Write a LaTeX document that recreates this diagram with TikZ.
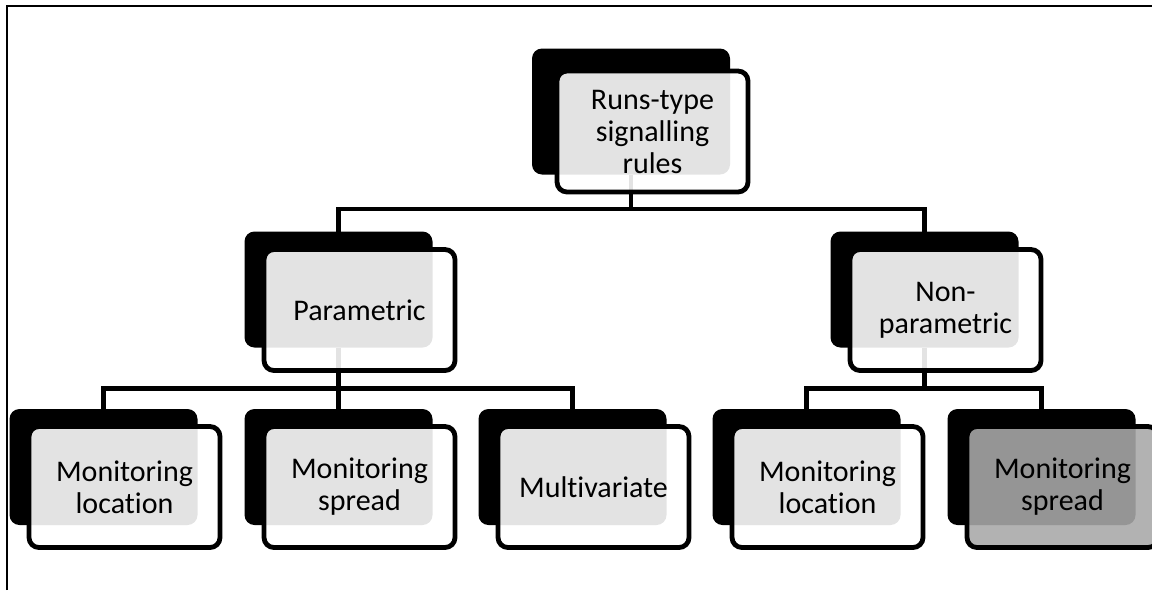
\documentclass[tikz,border=0pt]{standalone}
\usepackage{fontspec}
\setmainfont{Carlito}[Ligatures=NoCommon]

\begin{document}
\begin{tikzpicture}[
  x=1pt, y=1pt,
  back/.style={fill=black, rounded corners=5pt, minimum width=94pt, minimum height=58pt, outer sep=0pt},
  front/.style={draw=black, line width=2.4pt, fill=white, fill opacity=0.89, text opacity=1, rounded corners=5pt,
    minimum width=95.5pt, minimum height=60.5pt, outer sep=0pt, align=center, font=\fontsize{15}{16}\selectfont},
  dark/.style={fill=black!34},
  link/.style={line width=2.1pt}
]
\useasboundingbox (0,0) rectangle (576,-295);
\draw[line width=1pt] (3.5,-295) -- (3.5,-3) -- (576,-3);
% back plates
\node[back, minimum width=99pt, minimum height=63pt] (rootb) at (315.5,-55.75) {};
\node[back] (parb) at (169.25,-144.75) {};
\node[back] (nonb) at (462.25,-144.75) {};
\node[back] (plocb) at (51.75,-233.5) {};
\node[back] (psprb) at (169.25,-233.5) {};
\node[back] (pmulb) at (286.25,-233.5) {};
\node[back] (nlocb) at (403.25,-233.5) {};
\node[back] (nsprb) at (520.75,-233.5) {};
% connectors
\draw[link] (rootb.south) -- ++(0,-17.25) coordinate (bus1) -| (parb.north);
\draw[link] (bus1) -| (nonb.north);
\draw[link] (parb.south) -- ++(0,-20.5) coordinate (bus2) -| (plocb.north);
\draw[link] (bus2) -- (psprb.north);
\draw[link] (bus2) -| (pmulb.north);
\draw[link] (nonb.south) -- ++(0,-20.5) coordinate (bus3) -| (nlocb.north);
\draw[link] (bus3) -| (nsprb.north);
% front plates
\node[front] (root) at ([shift={(10.75,-10)}]rootb.center) {Runs-type\\signalling\\rules};
\node[front] (par) at ([shift={(10.5,-10.25)}]parb.center) {Parametric};
\node[front] (non) at ([shift={(10.5,-10.25)}]nonb.center) {Non-\\parametric};
\node[front] (ploc) at ([shift={(10.5,-10)}]plocb.center) {Monitoring\\location};
\node[front] (pspr) at ([shift={(10.5,-10)}]psprb.center) {Monitoring\\spread};
\node[front] (pmul) at ([shift={(10.5,-10)}]pmulb.center) {Multivariate};
\node[front] (nloc) at ([shift={(10.5,-10)}]nlocb.center) {Monitoring\\location};
\node[front, dark] (nspr) at ([shift={(10.5,-10)}]nsprb.center) {Monitoring\\spread};
\end{tikzpicture}
\end{document}
